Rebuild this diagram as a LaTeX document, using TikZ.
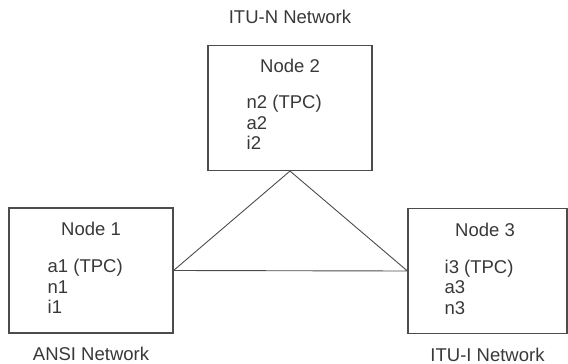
\documentclass[tikz,border=0pt]{standalone}
\usepackage{fontspec}
\setmainfont{Liberation Sans}
\usetikzlibrary{positioning}
\definecolor{linegray}{gray}{0.30}
\definecolor{textgray}{gray}{0.22}

\begin{document}
\begin{tikzpicture}[x=1pt,y=-1pt,
		box/.style={draw=linegray, line width=1.1pt, minimum width=164pt, minimum height=125pt, inner sep=0pt},
		lbl/.style={text=textgray, font=\fontsize{18.5}{20.5}\selectfont, inner sep=0pt},
		items/.style={lbl, align=left},
		conn/.style={draw=linegray, line width=0.9pt}]
		\useasboundingbox (0,0) rectangle (568,364);
		% the three boxes
		\node[box] (n2box) at (290,108) {};
		\node[box] (n1box) at (91,270.5) {};
		\node[box, minimum width=159pt] (n3box) at (487.5,271) {};
		% titles
		\node[lbl, below=13.5pt of n2box.north] (t2) {Node 2};
		\node[lbl, below=14.5pt of n1box.north] (t1) {Node 1};
		\node[lbl, below=14.5pt of n3box.north, xshift=-2.5pt] (t3) {Node 3};
		% point codes
		\node[items, below right=50pt and 39pt of n2box.north west] (l2) {n2 (TPC)\\a2\\i2};
		\node[items, below right=51.5pt and 39pt of n1box.north west] (l1) {a1 (TPC)\\n1\\i1};
		\node[items, below right=51.5pt and 37pt of n3box.north west] (l3) {i3 (TPC)\\a3\\n3};
		% network names
		\node[lbl, above=21pt of n2box] (net2) {ITU-N Network};
		\node[lbl, below=13.5pt of n1box] (net1) {ANSI Network};
		\node[lbl, below=13.5pt of n3box] (net3) {ITU-I Network};
		% links
		\draw[conn] (n2box.south) -- (n1box.east) -- (n3box.west) -- cycle;
	\end{tikzpicture}
\end{document}
